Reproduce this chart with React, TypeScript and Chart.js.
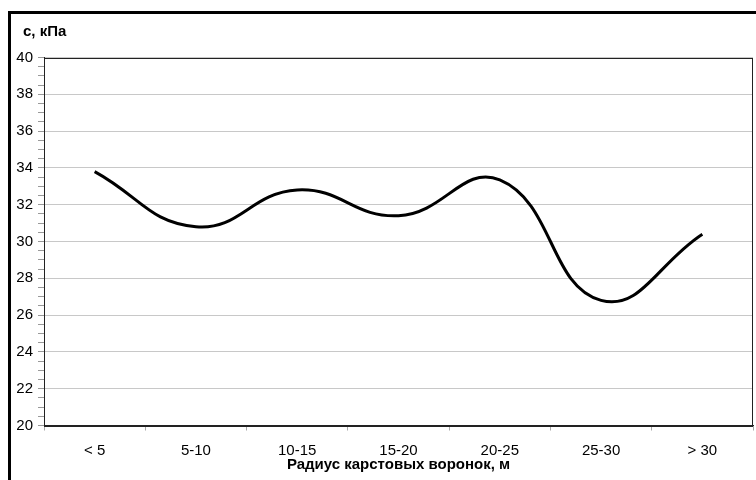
import React, { useEffect, useRef } from "react";
import { Chart, registerables } from "chart.js";

Chart.register(...registerables);

const categories = ["< 5", "5-10", "10-15", "15-20", "20-25", "25-30", "> 30"];
const cohesion = [33.8, 30.8, 32.8, 31.4, 33.35, 26.8, 30.4];
const yMin = 20;
const yMax = 40;
const yLabelStep = 2;
const yMinorStep = 0.5;
const yTitle = "c, кПа";
const xTitle = "Радиус карстовых воронок, м";

const FONT = "'Liberation Sans', Arial, sans-serif";

const frame = {
  id: "plotFrame",
  afterDatasetsDraw(chart: any) {
    const { ctx, chartArea } = chart;
    ctx.save();
    ctx.strokeStyle = "#222";
    ctx.lineWidth = 1;
    ctx.strokeRect(
      Math.round(chartArea.left) + 0.5,
      Math.round(chartArea.top) + 0.5,
      Math.round(chartArea.right - chartArea.left) - 1,
      Math.round(chartArea.bottom - chartArea.top)
    );
    ctx.restore();
  },
};

const yAxisCaption = {
  id: "yAxisCaption",
  afterDraw(chart: any) {
    const { ctx } = chart;
    ctx.save();
    ctx.fillStyle = "#000";
    ctx.font = `bold 15px ${FONT}`;
    ctx.textAlign = "left";
    ctx.textBaseline = "middle";
    ctx.fillText(yTitle, 23, 32);
    ctx.restore();
  },
};

export default function App() {
  const ref = useRef<HTMLCanvasElement | null>(null);

  useEffect(() => {
    if (!ref.current) return;
    const isMajor = (v: number) => Math.abs(v / yLabelStep - Math.round(v / yLabelStep)) < 1e-6;
    const chart = new Chart(ref.current, {
      type: "line",
      data: {
        labels: categories,
        datasets: [
          {
            label: yTitle,
            data: cohesion,
            borderColor: "#000",
            borderWidth: 3,
            tension: 0.45,
            pointRadius: 0,
            fill: false,
          },
        ],
      },
      options: {
        responsive: false,
        animation: false,
        layout: { padding: { left: 0, right: 3, top: 57.5, bottom: 0 } },
        plugins: {
          legend: { display: false },
          tooltip: { enabled: false },
          title: { display: false },
        },
        scales: {
          x: {
            offset: true,
            grid: {
              offset: true,
              drawOnChartArea: false,
              drawTicks: true,
              tickLength: 5,
              color: "#aaa",
              tickColor: "#aaa",
            },
            border: { display: true, color: "#222", width: 1 },
            ticks: {
              color: "#000",
              font: { family: FONT, size: 15 },
              padding: 11.5,
              maxRotation: 0,
              autoSkip: false,
            },
            title: {
              display: true,
              text: xTitle,
              color: "#000",
              font: { family: FONT, size: 15, weight: "bold" },
              padding: { top: 6, bottom: 6 },
            },
            afterFit(scale: any) {
              scale.height = 54.5;
            },
          },
          y: {
            min: yMin,
            max: yMax,
            grid: {
              color: (c: any) => (c.tick && isMajor(c.tick.value) ? "#c8c8c8" : "rgba(0,0,0,0)"),
              tickColor: "#999",
              tickLength: 6,
              drawTicks: true,
            },
            border: { display: true, color: "#222", width: 1 },
            ticks: {
              stepSize: yMinorStep,
              autoSkip: false,
              color: "#000",
              font: { family: FONT, size: 15 },
              padding: 5,
              callback: (v: any) => (isMajor(Number(v)) ? String(v) : ""),
            },
            afterFit(scale: any) {
              scale.width = 44;
            },
          },
        },
      },
      plugins: [frame, yAxisCaption],
    });
    return () => chart.destroy();
  }, []);

  return (
    <div style={{ position: "fixed", left: 0, top: 0, width: 756, height: 480, background: "#fff", overflow: "hidden" }}>
      <div
        style={{
          position: "absolute",
          left: 8,
          top: 11,
          width: 760,
          height: 480,
          borderLeft: "3px solid #000",
          borderTop: "3px solid #000",
        }}
      />
      <canvas ref={ref} width={756} height={480} style={{ position: "absolute", left: 0, top: 0 }} />
    </div>
  );
}
